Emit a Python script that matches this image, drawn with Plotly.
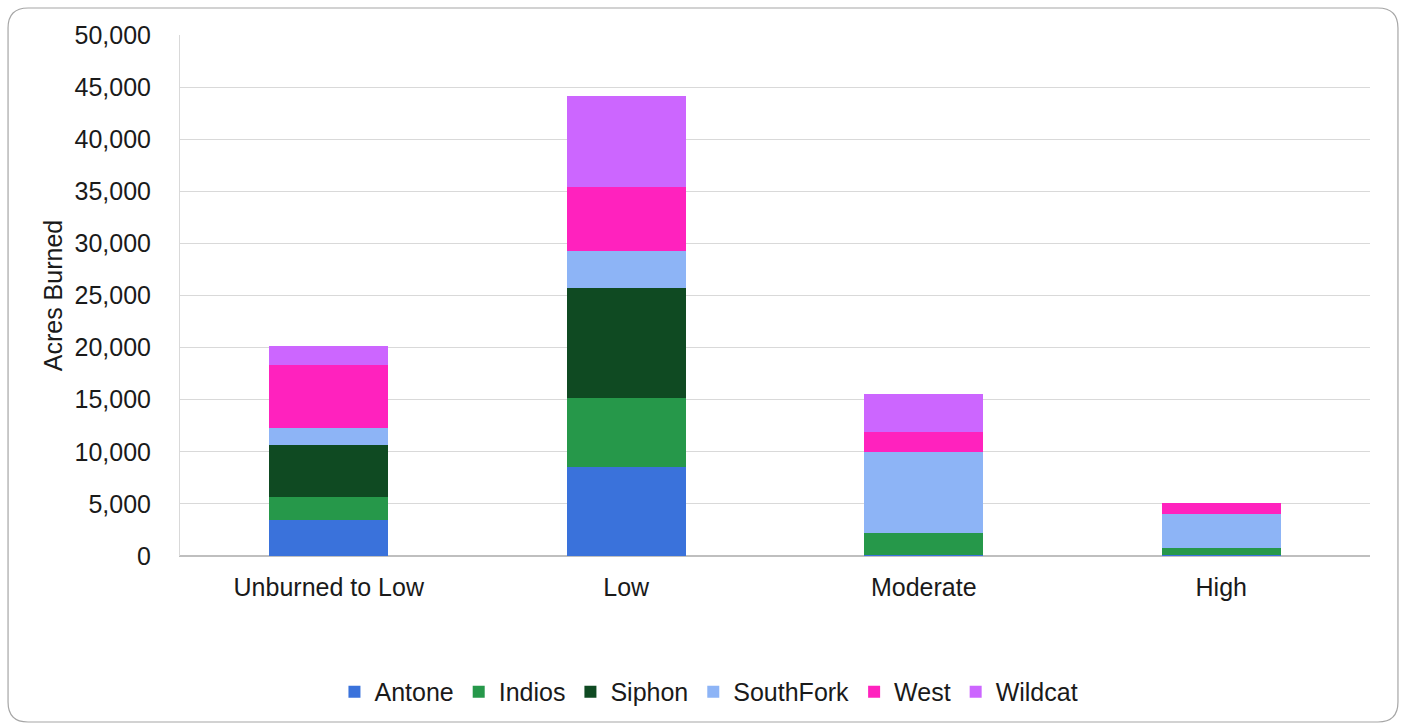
import plotly.graph_objects as go

# Burn severity classes and acres burned per fire
categories = ["Unburned to Low", "Low", "Moderate", "High"]
fires = ["Antone", "Indios", "Siphon", "SouthFork", "West", "Wildcat"]
antone = [3500, 8550, 100, 50]
indios = [2150, 6600, 2100, 700]
siphon = [5000, 10550, 0, 0]
southfork = [1600, 3550, 7800, 3250]
west = [6050, 6150, 1900, 1050]
wildcat = [1850, 8750, 3650, 0]
y_ticks = [0, 5000, 10000, 15000, 20000, 25000, 30000, 35000, 40000, 45000, 50000]

series = [antone, indios, siphon, southfork, west, wildcat]
colors = ["#3a72db", "#26984a", "#0f4a22", "#8db4f6", "#ff22be", "#cc66ff"]

fig = go.Figure()
for name, vals, col in zip(fires, series, colors):
    fig.add_trace(go.Bar(
        x=categories, y=vals, name=name,
        marker=dict(color=col, line=dict(width=0)),
    ))

# rounded frame around the whole chart, in paper coordinates
x0, x1, y0, y1 = -0.1445, 1.0235, -0.3186, 1.0518
rx, ry = 0.0168, 0.0384
frame = (
    f"M {x0+rx},{y1} L {x1-rx},{y1} Q {x1},{y1} {x1},{y1-ry} "
    f"L {x1},{y0+ry} Q {x1},{y0} {x1-rx},{y0} "
    f"L {x0+rx},{y0} Q {x0},{y0} {x0},{y0+ry} "
    f"L {x0},{y1-ry} Q {x0},{y1} {x0+rx},{y1} Z"
)

fs = 25
fig.update_layout(
    barmode="stack",
    bargap=0.6,
    width=1404, height=728,
    margin=dict(l=180, r=34, t=35, b=172, autoexpand=False),
    paper_bgcolor="white",
    plot_bgcolor="white",
    font=dict(family="Liberation Sans, Arial, sans-serif", size=fs, color="#1a1a1a"),
    showlegend=True,
    legend=dict(
        orientation="h", x=0.4445, xanchor="center",
        y=-0.261, yanchor="middle",
        font=dict(size=fs, color="#1a1a1a"), itemwidth=30, traceorder="normal",
    ),
    xaxis=dict(
        showgrid=False, showline=True, linecolor="#bfbfbf", linewidth=1,
        ticks="", tickangle=0, tickfont=dict(size=fs), ticklabelstandoff=9,
    ),
    yaxis=dict(
        range=[0, 50000], tickvals=y_ticks, tickformat=",d",
        showgrid=True, gridcolor="#d9d9d9", gridwidth=1,
        showline=True, linecolor="#d9d9d9", linewidth=1,
        zeroline=True, zerolinecolor="#bfbfbf",
        ticks="", tickfont=dict(size=fs), ticklabelstandoff=23,
        title=dict(text="Acres Burned", font=dict(size=fs), standoff=4),
    ),
    shapes=[dict(
        type="path", xref="paper", yref="paper", layer="below",
        path=frame,
        line=dict(color="#a6a6a6", width=1.2),
    )],
)

fig.write_html("out.html")
